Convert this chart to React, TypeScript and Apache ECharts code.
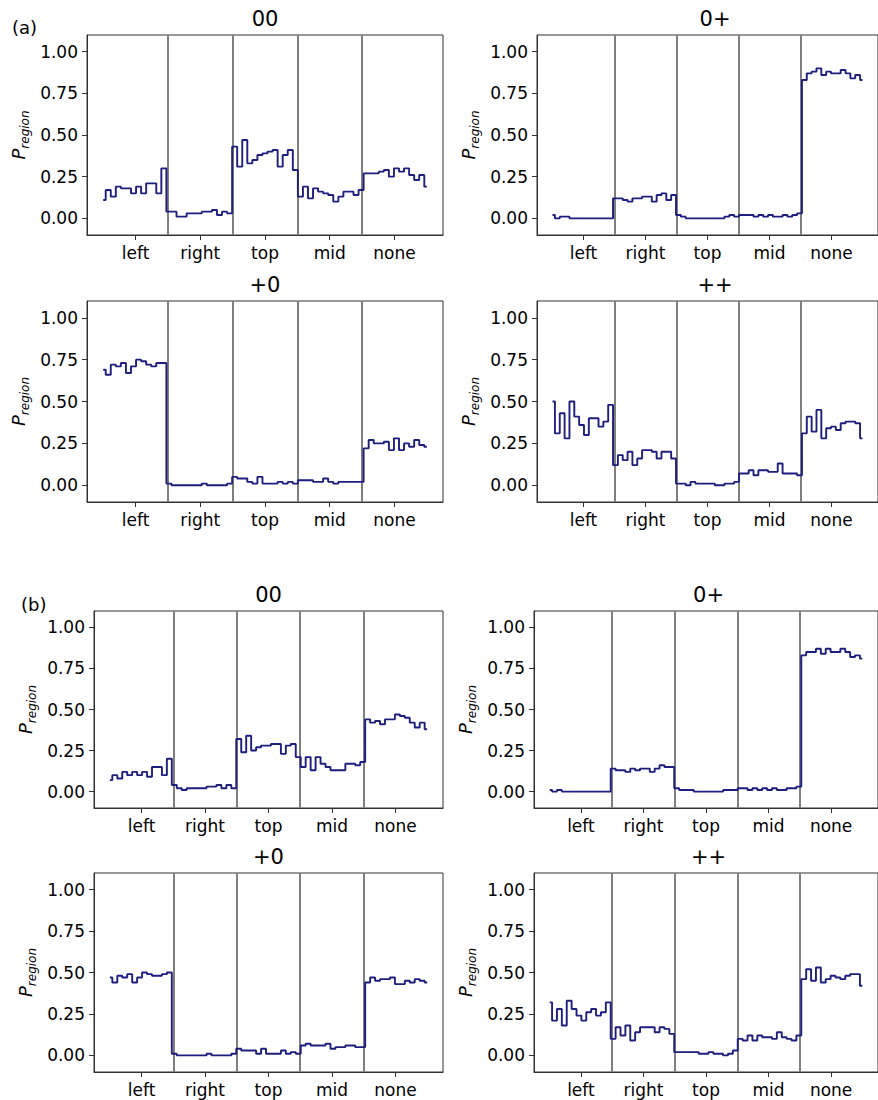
import React, { useEffect, useRef } from "react";
import * as echarts from "echarts";

// ---------- data ----------
const categories = ["left", "right", "top", "mid", "none"];
const tickPositions = [0, 1, 2, 3, 4];
const dividerPositions = [0.5, 1.5, 2.5, 3.5];
const yTicks = [0, 0.25, 0.5, 0.75, 1.0];
const panelTitles = ["00", "0+", "+0", "++"];

// 13 steps per region: left | right | top | mid | none
const A_00 = [
  0.11, 0.17, 0.13, 0.19, 0.18, 0.18, 0.15, 0.19, 0.15, 0.21, 0.21, 0.15, 0.30,
  0.04, 0.04, 0.01, 0.01, 0.03, 0.03, 0.03, 0.04, 0.04, 0.05, 0.02, 0.04, 0.03,
  0.43, 0.31, 0.47, 0.33, 0.35, 0.38, 0.39, 0.40, 0.41, 0.31, 0.38, 0.41, 0.29,
  0.13, 0.19, 0.12, 0.18, 0.16, 0.15, 0.14, 0.10, 0.13, 0.16, 0.16, 0.14, 0.17,
  0.27, 0.27, 0.27, 0.28, 0.29, 0.25, 0.30, 0.28, 0.30, 0.26, 0.23, 0.26, 0.19,
];
const A_0P = [
  0.02, 0.00, 0.01, 0.01, 0.00, 0.00, 0.00, 0.00, 0.00, 0.00, 0.00, 0.00, 0.00,
  0.12, 0.12, 0.11, 0.10, 0.12, 0.12, 0.13, 0.13, 0.10, 0.14, 0.15, 0.11, 0.14,
  0.02, 0.01, 0.00, 0.00, 0.00, 0.00, 0.00, 0.00, 0.00, 0.00, 0.01, 0.02, 0.01,
  0.02, 0.02, 0.02, 0.01, 0.02, 0.01, 0.02, 0.01, 0.01, 0.02, 0.01, 0.02, 0.03,
  0.83, 0.87, 0.88, 0.90, 0.86, 0.88, 0.87, 0.87, 0.89, 0.87, 0.84, 0.86, 0.83,
];
const A_P0 = [
  0.69, 0.66, 0.72, 0.71, 0.73, 0.67, 0.71, 0.75, 0.74, 0.72, 0.71, 0.73, 0.73,
  0.01, 0.00, 0.00, 0.00, 0.00, 0.00, 0.00, 0.01, 0.00, 0.00, 0.00, 0.00, 0.01,
  0.05, 0.04, 0.04, 0.02, 0.01, 0.05, 0.01, 0.01, 0.01, 0.02, 0.01, 0.02, 0.01,
  0.03, 0.03, 0.03, 0.02, 0.02, 0.04, 0.02, 0.01, 0.02, 0.02, 0.02, 0.02, 0.02,
  0.22, 0.27, 0.25, 0.25, 0.26, 0.21, 0.28, 0.21, 0.25, 0.23, 0.27, 0.24, 0.23,
];
const A_PP = [
  0.50, 0.31, 0.43, 0.28, 0.50, 0.41, 0.36, 0.30, 0.40, 0.40, 0.35, 0.38, 0.48,
  0.12, 0.18, 0.15, 0.20, 0.12, 0.16, 0.21, 0.21, 0.20, 0.16, 0.20, 0.20, 0.16,
  0.01, 0.01, 0.00, 0.02, 0.01, 0.01, 0.01, 0.01, 0.00, 0.00, 0.01, 0.01, 0.02,
  0.07, 0.07, 0.09, 0.06, 0.09, 0.09, 0.08, 0.08, 0.13, 0.07, 0.07, 0.07, 0.06,
  0.31, 0.41, 0.32, 0.45, 0.28, 0.34, 0.35, 0.33, 0.37, 0.38, 0.38, 0.37, 0.28,
];
const B_00 = [
  0.07, 0.10, 0.08, 0.12, 0.10, 0.12, 0.10, 0.12, 0.09, 0.15, 0.15, 0.10, 0.20,
  0.04, 0.02, 0.01, 0.02, 0.02, 0.02, 0.02, 0.03, 0.03, 0.04, 0.02, 0.04, 0.02,
  0.32, 0.24, 0.34, 0.25, 0.27, 0.28, 0.28, 0.29, 0.29, 0.23, 0.28, 0.29, 0.21,
  0.15, 0.21, 0.13, 0.21, 0.17, 0.15, 0.13, 0.13, 0.13, 0.17, 0.17, 0.16, 0.18,
  0.44, 0.42, 0.43, 0.41, 0.44, 0.44, 0.47, 0.46, 0.45, 0.42, 0.39, 0.42, 0.38,
];
const B_0P = [
  0.01, 0.00, 0.01, 0.00, 0.00, 0.00, 0.00, 0.00, 0.00, 0.00, 0.00, 0.00, 0.00,
  0.14, 0.13, 0.13, 0.12, 0.14, 0.13, 0.14, 0.14, 0.12, 0.14, 0.16, 0.15, 0.15,
  0.02, 0.01, 0.01, 0.01, 0.00, 0.00, 0.00, 0.00, 0.00, 0.00, 0.01, 0.01, 0.01,
  0.02, 0.02, 0.01, 0.02, 0.01, 0.02, 0.01, 0.02, 0.01, 0.01, 0.02, 0.02, 0.03,
  0.83, 0.85, 0.85, 0.87, 0.84, 0.87, 0.85, 0.85, 0.87, 0.85, 0.82, 0.83, 0.81,
];
const B_P0 = [
  0.47, 0.44, 0.48, 0.47, 0.49, 0.44, 0.47, 0.50, 0.49, 0.48, 0.48, 0.49, 0.50,
  0.01, 0.00, 0.00, 0.00, 0.00, 0.00, 0.00, 0.01, 0.00, 0.00, 0.00, 0.00, 0.01,
  0.04, 0.03, 0.03, 0.03, 0.01, 0.04, 0.01, 0.01, 0.01, 0.03, 0.01, 0.02, 0.01,
  0.06, 0.07, 0.06, 0.06, 0.06, 0.07, 0.04, 0.05, 0.05, 0.06, 0.06, 0.05, 0.05,
  0.44, 0.47, 0.45, 0.46, 0.46, 0.47, 0.43, 0.43, 0.45, 0.44, 0.46, 0.45, 0.44,
];
const B_PP = [
  0.32, 0.21, 0.28, 0.18, 0.33, 0.28, 0.24, 0.21, 0.26, 0.28, 0.24, 0.26, 0.32,
  0.10, 0.17, 0.12, 0.18, 0.09, 0.14, 0.17, 0.17, 0.17, 0.14, 0.17, 0.16, 0.13,
  0.02, 0.02, 0.02, 0.02, 0.02, 0.01, 0.01, 0.02, 0.01, 0.01, 0.00, 0.01, 0.03,
  0.10, 0.09, 0.12, 0.09, 0.12, 0.11, 0.11, 0.10, 0.14, 0.11, 0.10, 0.09, 0.12,
  0.46, 0.52, 0.45, 0.53, 0.44, 0.46, 0.48, 0.47, 0.46, 0.48, 0.49, 0.49, 0.42,
];

// ---------- layout ----------
const FONT = "'DejaVu Sans', sans-serif";
const LINE_COLOR = "#1e1e7e";
const AXIS_COLOR = "#333333";

const panels = [
  { data: A_00, title: panelTitles[0], box: { left: 87, top: 35, width: 356, height: 200 } },
  { data: A_0P, title: panelTitles[1], box: { left: 537, top: 35, width: 356, height: 200 } },
  { data: A_P0, title: panelTitles[2], box: { left: 87, top: 301, width: 356, height: 201 } },
  { data: A_PP, title: panelTitles[3], box: { left: 537, top: 301, width: 356, height: 201 } },
  { data: B_00, title: panelTitles[0], box: { left: 94, top: 611, width: 349, height: 197 } },
  { data: B_0P, title: panelTitles[1], box: { left: 534, top: 611, width: 349, height: 197 } },
  { data: B_P0, title: panelTitles[2], box: { left: 94, top: 873, width: 349, height: 199 } },
  { data: B_PP, title: panelTitles[3], box: { left: 534, top: 873, width: 349, height: 199 } },
];

export default function App() {
  const ref = useRef<HTMLDivElement>(null);

  useEffect(() => {
    document.body.style.margin = "0";
    if (!ref.current) return;
    const chart = echarts.init(ref.current, null, { renderer: "svg" });

    const grid = panels.map((p) => ({
      ...p.box,
      show: true,
      borderColor: AXIS_COLOR,
      borderWidth: 1,
      backgroundColor: "transparent",
    }));

    const xAxis = panels.map((p, i) => ({
      type: "value",
      gridIndex: i,
      min: -0.75,
      max: 4.75,
      axisLine: { show: true, onZero: false, lineStyle: { color: AXIS_COLOR, width: 1 } },
      splitLine: { show: false },
      axisTick: {
        show: true,
        customValues: tickPositions,
        length: 5,
        lineStyle: { color: AXIS_COLOR, width: 1 },
      },
      axisLabel: {
        customValues: tickPositions,
        formatter: (v: number) => categories[Math.round(v)] ?? "",
        fontSize: 17,
        fontFamily: FONT,
        color: "#000",
        margin: 9,
      },
    }));

    const yAxis = panels.map((p, i) => ({
      type: "value",
      gridIndex: i,
      min: -0.1,
      max: 1.1,
      axisLine: { show: true, onZero: false, lineStyle: { color: AXIS_COLOR, width: 1 } },
      splitLine: { show: false },
      axisTick: {
        show: true,
        customValues: yTicks,
        length: 5,
        lineStyle: { color: AXIS_COLOR, width: 1 },
      },
      axisLabel: {
        customValues: yTicks,
        formatter: (v: number) => v.toFixed(2),
        fontSize: 17,
        fontFamily: FONT,
        color: "#000",
        margin: 9,
      },
      name: "{p|P}{s|region}",
      nameLocation: "middle",
      nameRotate: 90,
      nameGap: 47,
      nameTextStyle: {
        rich: {
          p: {
            fontSize: 18,
            fontStyle: "italic",
            fontFamily: FONT,
            color: "#000",
            lineHeight: 18,
            verticalAlign: "top",
          },
          s: {
            fontSize: 12,
            fontStyle: "italic",
            fontFamily: FONT,
            color: "#000",
            lineHeight: 31,
            verticalAlign: "middle",
          },
        },
      },
    }));

    const series = panels.map((p, i) => {
      const n = p.data.length;
      const pts = p.data.map((v, j) => [-0.5 + (j * 5) / (n - 1), v]);
      return {
        type: "line",
        xAxisIndex: i,
        yAxisIndex: i,
        step: "middle",
        data: pts,
        showSymbol: false,
        symbol: "none",
        silent: true,
        lineStyle: { color: LINE_COLOR, width: 1.9 },
        z: 3,
        markLine: {
          silent: true,
          symbol: ["none", "none"],
          label: { show: false },
          lineStyle: { color: "#7f7f7f", width: 2, type: "solid" },
          data: dividerPositions.map((d) => ({ xAxis: d })),
          z: 2,
        },
      };
    });

    const graphic: any[] = panels.map((p) => ({
      type: "text",
      x: p.box.left + p.box.width / 2,
      y: p.box.top - 16,
      style: {
        text: p.title,
        fontSize: 21,
        fontFamily: FONT,
        fill: "#000",
        textAlign: "center",
        textVerticalAlign: "middle",
      },
    }));
    graphic.push({
      type: "text",
      x: 12,
      y: 27,
      style: { text: "(a)", fontSize: 18, fontFamily: FONT, fill: "#000", textAlign: "left", textVerticalAlign: "middle" },
    });
    graphic.push({
      type: "text",
      x: 21,
      y: 604,
      style: { text: "(b)", fontSize: 18, fontFamily: FONT, fill: "#000", textAlign: "left", textVerticalAlign: "middle" },
    });

    chart.setOption({
      animation: false,
      backgroundColor: "#ffffff",
      grid,
      xAxis,
      yAxis,
      series,
      graphic,
    } as any);

    return () => chart.dispose();
  }, []);

  return <div ref={ref} style={{ width: 878, height: 1100 }} />;
}
